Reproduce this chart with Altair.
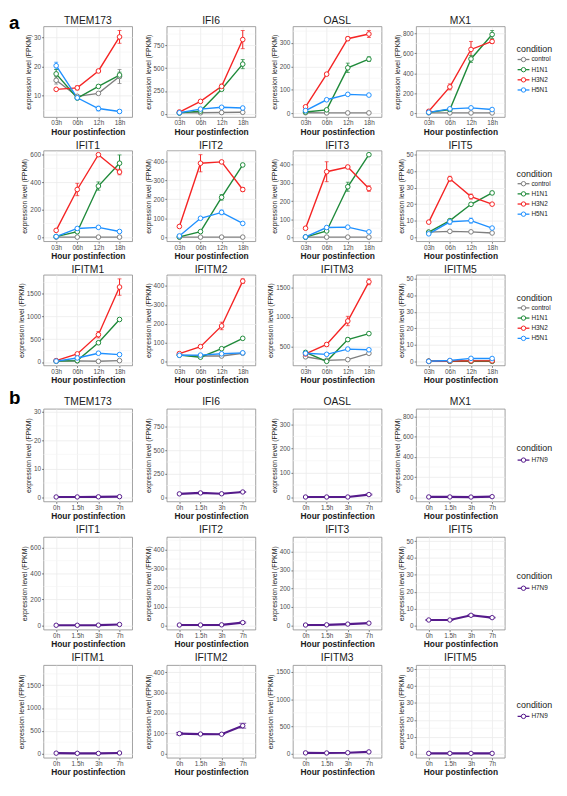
import altair as alt
import pandas as pd

FONT = "Liberation Sans"

genes = ["TMEM173", "IFI6", "OASL", "MX1", "IFIT1", "IFIT2", "IFIT3", "IFIT5",
         "IFITM1", "IFITM2", "IFITM3", "IFITM5"]
hours_a = ["03h", "06h", "12h", "18h"]
hours_b = ["0h", "1.5h", "3h", "7h"]
conds_a = ["control", "H1N1", "H3N2", "H5N1"]
conds_b = ["H7N9"]
all_conds = conds_a + conds_b
cond_colors = ["#7f7f7f", "#1f8a3a", "#f52424", "#1e90ff", "#551a8b"]

# ---- section a: rows = control, H1N1, H3N2, H5N1 ; cols = 03h, 06h, 12h, 18h
TMEM173_mean = [[15.3, 9.8, 10.8, 16.6], [17.5, 9.2, 13.2, 17.1], [12.2, 12.7, 18.5, 30.2], [20.3, 9.3, 5.6, 4.6]]
TMEM173_err = [[1.3, 0.4, 0.3, 2.4], [1.5, 0.4, 0.4, 1.0], [0.3, 0.7, 0.3, 2.2], [1.2, 0.3, 0.8, 0.5]]
IFI6_mean = [[8, 10, 12, 15], [8, 28, 268, 545], [18, 135, 300, 815], [10, 50, 70, 62]]
IFI6_err = [[0, 0, 0, 0], [0, 0, 15, 50], [0, 10, 25, 100], [0, 0, 0, 0]]
OASL_mean = [[3, 2, 2, 2], [6, 15, 194, 231], [28, 167, 318, 338], [12, 58, 81, 78]]
OASL_err = [[0, 0, 0, 0], [0, 3, 20, 10], [0, 5, 8, 15], [0, 0, 0, 0]]
MX1_mean = [[5, 4, 4, 4], [10, 38, 545, 790], [20, 265, 640, 720], [10, 45, 55, 38]]
MX1_err = [[0, 0, 0, 0], [0, 0, 35, 40], [0, 30, 80, 20], [0, 0, 0, 0]]
IFIT1_mean = [[1, 1, 1, 1], [5, 40, 372, 538], [50, 347, 600, 474], [5, 64, 72, 42]]
IFIT1_err = [[0, 0, 0, 0], [0, 0, 30, 60], [0, 45, 0, 20], [0, 0, 0, 0]]
IFIT2_mean = [[1, 1, 1, 1], [2, 30, 210, 380], [57, 389, 396, 251], [7, 100, 131, 73]]
IFIT2_err = [[0, 0, 0, 0], [0, 0, 15, 0], [0, 45, 0, 10], [0, 0, 12, 0]]
IFIT3_mean = [[1, 1, 1, 1], [1, 35, 279, 456], [50, 362, 388, 269], [2, 54, 56, 30]]
IFIT3_err = [[0, 0, 0, 0], [0, 0, 25, 0], [0, 55, 5, 15], [0, 0, 0, 0]]
IFIT5_mean = [[3, 3.5, 3.2, 2.5], [3, 10, 19.9, 26.8], [9.1, 35.4, 24.6, 20], [2, 9.3, 10, 5.5]]
IFIT5_err = [[0, 0, 0, 0], [0, 0.5, 0, 1], [0, 1.5, 1.5, 0.5], [0, 1.5, 1.5, 0]]
IFITM1_mean = [[20, 25, 15, 30], [20, 30, 423, 935], [30, 178, 601, 1648], [20, 89, 193, 163]]
IFITM1_err = [[0, 0, 0, 0], [0, 0, 20, 0], [0, 0, 70, 180], [0, 0, 0, 0]]
IFITM2_mean = [[33, 28, 28, 43], [33, 22, 67, 122], [41, 78, 188, 426], [32, 33, 40, 45]]
IFITM2_err = [[0, 0, 0, 5], [0, 0, 0, 0], [0, 3, 20, 12], [0, 0, 0, 0]]
IFITM3_mean = [[320, 260, 272, 380], [395, 243, 614, 716], [368, 530, 931, 1600], [380, 362, 452, 440]]
IFITM3_err = [[0, 0, 0, 20], [0, 0, 30, 0], [0, 25, 80, 50], [0, 20, 15, 0]]
IFITM5_mean = [[0.1, 0.1, 0.1, 0.1], [0, 0, 0, 0], [0, 0.2, 0.3, 0.3], [0, 0.5, 1.8, 1.7]]
IFITM5_err = [[0, 0, 0, 0], [0, 0, 0, 0], [0, 0, 0, 0], [0, 0, 0, 0]]

ticks_a = [[10, 20, 30], [0, 250, 500, 750], [0, 100, 200, 300], [0, 200, 400, 600, 800],
           [0, 200, 400, 600], [0, 100, 200, 300, 400], [0, 100, 200, 300, 400], [0, 10, 20, 30, 40, 50],
           [0, 500, 1000, 1500], [0, 100, 200, 300, 400], [500, 1000, 1500], [0, 10, 20, 30, 40, 50]]
fixed_limits_a = {"IFIT5": [0, 50], "IFITM5": [0, 50], "IFITM2": [0, 438]}

# ---- section b: H7N9 ; cols = 0h, 1.5h, 3h, 7h
TMEM173_b = [0.1, 0.1, 0.15, 0.2]
IFI6_b = [36, 46, 37, 56]
OASL_b = [1, 1, 1, 11]
MX1_b = [3, 3, 2, 6]
IFIT1_b = [1, 1, 2, 7]
IFIT2_b = [2, 2, 3, 15]
IFIT3_b = [2, 3, 7, 12]
IFIT5_b = [3.2, 3.2, 6.0, 4.6]
IFITM1_b = [8, 5, 3, 12]
IFITM2_b = [98, 96, 95, 137]
IFITM3_b = [12, 10, 15, 30]
IFITM5_b = [0.1, 0.1, 0.1, 0.1]
err_b = {"IFI6": [0, 0, 0, 5], "OASL": [0, 0, 0, 2], "IFIT2": [0, 0, 0, 3],
         "IFIT5": [0.3, 0.3, 0.5, 0.2], "IFITM2": [6, 1, 1, 12]}
ticks_b = [[0, 10, 20, 30], [0, 250, 500, 750], [0, 100, 200, 300], [0, 200, 400, 600, 800],
           [0, 200, 400, 600], [0, 100, 200, 300, 400], [0, 100, 200, 300, 400], [0, 10, 20, 30, 40, 50],
           [0, 500, 1000, 1500], [0, 100, 200, 300, 400], [0, 500, 1000, 1500], [0, 10, 20, 30, 40, 50]]
upper_b = [29.5, 897, 346, 835, 650, 445, 456, 50, 1850, 415, 1550, 50]

means_a = [TMEM173_mean, IFI6_mean, OASL_mean, MX1_mean, IFIT1_mean, IFIT2_mean, IFIT3_mean,
           IFIT5_mean, IFITM1_mean, IFITM2_mean, IFITM3_mean, IFITM5_mean]
errs_a = [TMEM173_err, IFI6_err, OASL_err, MX1_err, IFIT1_err, IFIT2_err, IFIT3_err,
          IFIT5_err, IFITM1_err, IFITM2_err, IFITM3_err, IFITM5_err]
means_b = [TMEM173_b, IFI6_b, OASL_b, MX1_b, IFIT1_b, IFIT2_b, IFIT3_b, IFIT5_b,
           IFITM1_b, IFITM2_b, IFITM3_b, IFITM5_b]

W = 90
HA = 92
HB = 94


def expand(lo, hi):
    d = (hi - lo) * 0.05
    return [lo - d, hi + d]


color = alt.Color("condition:N", scale=alt.Scale(domain=all_conds, range=cond_colors), legend=None)
section_y = {"a": 3, "b": -5}


def panel(gene, hours, conds, means, errs, ticks, domain, h, lw, psize, capw, title_y, section=None):
    rows = []
    for c, mrow, erow in zip(conds, means, errs):
        for hr, m, e in zip(hours, mrow, erow):
            rows.append({"condition": c, "hour": hr, "value": m, "lo": m - e, "hi": m + e, "err": e})
    df = pd.DataFrame(rows)
    dfe = df[df["err"] > 0]
    step = ticks[1] - ticks[0]
    minors = [t + step / 2 for t in [ticks[0] - step] + ticks]
    minors = [v for v in minors if domain[0] <= v <= domain[1]]
    mdf = pd.DataFrame({"value": minors})

    ysc = alt.Scale(domain=domain, nice=False, zero=False)
    yax = alt.Axis(values=ticks, format="d", title="expression level (FPKM)")
    xenc = alt.X("hour:N", sort=hours,
                 scale=alt.Scale(type="point", domain=hours, padding=0.6),
                 axis=alt.Axis(title="Hour postinfection", labelAngle=0))

    layers = [
        alt.Chart(mdf).mark_rule(color="#f3f3f3", strokeWidth=0.6).encode(
            y=alt.Y("value:Q", scale=ysc, axis=yax)),
        alt.Chart(dfe).mark_rule(strokeWidth=1).encode(
            x=xenc, y=alt.Y("lo:Q", scale=ysc, axis=yax), y2="hi:Q", color=color),
        alt.Chart(dfe).mark_tick(size=capw, thickness=1).encode(
            x=xenc, y=alt.Y("lo:Q", scale=ysc, axis=yax), color=color),
        alt.Chart(dfe).mark_tick(size=capw, thickness=1).encode(
            x=xenc, y=alt.Y("hi:Q", scale=ysc, axis=yax), color=color),
        alt.Chart(df).mark_line(strokeWidth=lw).encode(
            x=xenc, y=alt.Y("value:Q", scale=ysc, axis=yax), color=color),
        alt.Chart(df).mark_point(shape="circle", filled=False, fill="white", size=psize,
                                 strokeWidth=1, opacity=1).encode(
            x=xenc, y=alt.Y("value:Q", scale=ysc, axis=yax), color=color),
        alt.Chart(pd.DataFrame({"t": [gene]})).mark_text(
            font=FONT, fontSize=10.5, color="#1a1a1a", baseline="alphabetic", align="center").encode(
            text="t:N", x=alt.value(W / 2), y=alt.value(title_y)),
    ]
    if section is not None:
        layers.append(
            alt.Chart(pd.DataFrame({"t": [section]})).mark_text(
                font=FONT, fontSize=19, fontWeight="bold", color="black",
                baseline="alphabetic", align="left").encode(
                text="t:N", x=alt.value(-35), y=alt.value(section_y[section])))
    return alt.layer(*layers).properties(width=W, height=h)


def legend(conds, h, center, step):
    labs = ["condition"] + conds
    half = h / 2 / step
    yl_scale = alt.Scale(domain=[center + half, center - half], nice=False, zero=False)
    tdf = pd.DataFrame({"lab": ["condition"], "idx": [0]})
    idf = pd.DataFrame({"lab": conds, "condition": conds, "idx": list(range(1, len(labs)))})
    return alt.layer(
        alt.Chart(tdf).mark_text(
            font=FONT, fontSize=9, align="left", baseline="middle", color="#1a1a1a").encode(
            y=alt.Y("idx:Q", scale=yl_scale, axis=None), x=alt.value(0), text="lab:N"),
        alt.Chart(idf).mark_rule(strokeWidth=1.3).encode(
            y=alt.Y("idx:Q", scale=yl_scale, axis=None), x=alt.value(1), x2=alt.value(13), color=color),
        alt.Chart(idf).mark_point(shape="circle", filled=False, fill="white", size=20,
                                  strokeWidth=1, opacity=1).encode(
            y=alt.Y("idx:Q", scale=yl_scale, axis=None), x=alt.value(7), color=color),
        alt.Chart(idf).mark_text(font=FONT, fontSize=6.5, align="left", baseline="middle",
                                 color="#1a1a1a").encode(
            y=alt.Y("idx:Q", scale=yl_scale, axis=None), x=alt.value(15), text="lab:N"),
    ).properties(width=42, height=h, view=alt.ViewBackground(stroke="transparent"))


cells = []
for r in range(3):
    for c in range(4):
        i = r * 4 + c
        g = genes[i]
        m = means_a[i]
        e = errs_a[i]
        if g in fixed_limits_a:
            dom = expand(*fixed_limits_a[g])
        else:
            lo = min(mm - ee for mr, er in zip(m, e) for mm, ee in zip(mr, er))
            hi = max(mm + ee for mr, er in zip(m, e) for mm, ee in zip(mr, er))
            dom = expand(lo, hi)
        sec = "a" if i == 0 else None
        cells.append(panel(g, hours_a, conds_a, m, e, ticks_a[i], dom, HA, 1.4, 22, 4, -2, sec))
    cells.append(legend(conds_a, HA, 2.2, 10.3))

for r in range(3):
    for c in range(4):
        i = r * 4 + c
        g = genes[i]
        m = [means_b[i]]
        e = [err_b.get(g, [0, 0, 0, 0])]
        dom = expand(0, upper_b[i])
        sec = "b" if i == 0 else None
        cells.append(panel(g, hours_b, conds_b, m, e, ticks_b[i], dom, HB, 2.2, 20, 7, -4, sec))
    cells.append(legend(conds_b, HB, 0.58, 12))

chart = alt.concat(*cells, columns=5, spacing={"row": 3, "column": 10},
                   align="each", bounds="full").resolve_scale(
    x="independent", y="independent"
).properties(padding=0).configure(font=FONT).configure_view(
    stroke="#8a8a8a", strokeWidth=0.8
).configure_axis(
    domain=False, grid=True, gridColor="#ebebeb", gridWidth=0.8,
    tickColor="#333333", tickSize=2, tickWidth=0.6,
    labelFont=FONT, labelFontSize=6.5, labelColor="#4d4d4d", labelPadding=1,
    titleFont=FONT, titleColor="#1a1a1a"
).configure_axisX(
    titleFontSize=8.5, titleFontWeight="bold", titlePadding=1, labelAngle=0
).configure_axisY(
    titleFontSize=7, titleFontWeight="normal", titlePadding=2
)

chart.save("out.html", embed_options={"renderer": "svg", "actions": False})
